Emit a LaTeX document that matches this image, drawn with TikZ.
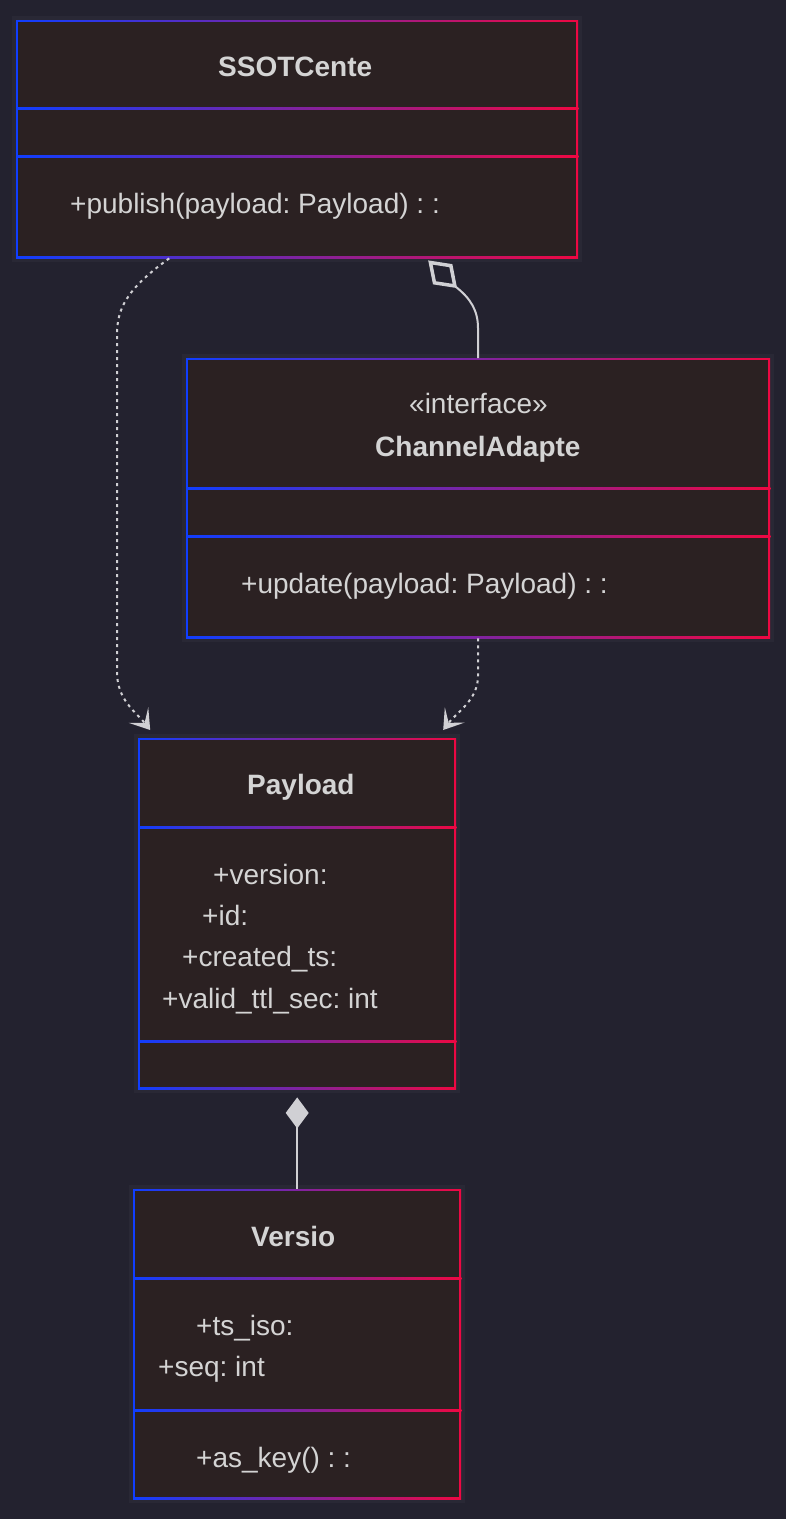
\documentclass[tikz,border=0pt]{standalone}
\usepackage{fontspec}
\setmainfont{Liberation Sans}
\usetikzlibrary{arrows.meta}
\frenchspacing

\definecolor{bgCol}{RGB}{35,34,47}
\definecolor{boxBg}{RGB}{43,33,34}
\definecolor{gBlue}{RGB}{16,62,255}
\definecolor{gRed}{RGB}{238,8,66}
\definecolor{txtCol}{RGB}{212,212,212}
\definecolor{lineCol}{RGB}{208,208,212}
\definecolor{haloCol}{RGB}{190,190,215}

\begin{document}
\begin{tikzpicture}[x=1pt,y=-1pt]

    \tikzstyle{classbox}=[rectangle, inner sep=0pt, anchor=north west, left color=gBlue, right color=gRed,
        preaction={draw=haloCol, line width=8pt, opacity=.04}]
    \tikzstyle{boxfill}=[fill=boxBg]
    \tikzstyle{bar}=[left color=gBlue, right color=gRed]
    \tikzstyle{txt}=[text=txtCol, inner sep=0pt, anchor=base west, font=\fontsize{28}{34}\selectfont]
    \tikzstyle{ttl}=[txt, font=\fontsize{28}{34}\selectfont\bfseries]
    \tikzstyle{dep}=[draw=lineCol, line width=2pt, dash pattern=on 3pt off 4pt, -{Stealth[length=19pt, width=25pt, inset=10pt]}]
    \tikzstyle{aggr}=[draw=lineCol, line width=2pt, {Diamond[open, length=40pt, width=28pt, line width=3.5pt]}-]
    \tikzstyle{compo}=[draw=lineCol, line width=2pt, {Diamond[length=31pt, width=23pt]}-]

    % Background
    \fill[bgCol] (0,0) rectangle (786,1519);
    \useasboundingbox (0,0) rectangle (786,1519);

    % SSOTCenter class
    \node[classbox, minimum width=562, minimum height=238] (ssot) at (16,20) {};
    \fill[boxfill] ([shift={(2,2)}]ssot.north west) rectangle ([shift={(-2,-2)}]ssot.south east);
    \shade[bar] ([shift={(0,87)}]ssot.north west) rectangle ([shift={(0,89)}]ssot.north east);
    \shade[bar] ([shift={(0,135)}]ssot.north west) rectangle ([shift={(0,137)}]ssot.north east);
    \node[ttl] (ssotTitle) at (218,76) {SSOTCente};
    \node[txt] (ssotOp) at (70,213) {+publish(payload: Payload) : :};

    % ChannelAdapter interface
    \node[classbox, minimum width=584, minimum height=280] (chan) at (186,358) {};
    \fill[boxfill] ([shift={(2,2)}]chan.north west) rectangle ([shift={(-2,-2)}]chan.south east);
    \shade[bar] ([shift={(0,129)}]chan.north west) rectangle ([shift={(0,131)}]chan.north east);
    \shade[bar] ([shift={(0,177)}]chan.north west) rectangle ([shift={(0,179)}]chan.north east);
    \node[txt] (chanStereo) at (409,413) {«interface»};
    \node[ttl] (chanTitle) at (375,456) {ChannelAdapte};
    \node[txt] (chanOp) at (241,593) {+update(payload: Payload) : :};

    % Payload class
    \node[classbox, minimum width=318, minimum height=351] (payload) at (138,738) {};
    \fill[boxfill] ([shift={(2,2)}]payload.north west) rectangle ([shift={(-2,-2)}]payload.south east);
    \shade[bar] ([shift={(0,88)}]payload.north west) rectangle ([shift={(0,90)}]payload.north east);
    \shade[bar] ([shift={(0,302)}]payload.north west) rectangle ([shift={(0,304)}]payload.north east);
    \node[ttl] (payTitle) at (247,794) {Payload};
    \node[txt] (payVer) at (213,884) {+version:};
    \node[txt] (payId) at (202,925) {+id:};
    \node[txt] (payTs) at (182,966) {+created\_ts:};
    \node[txt] (payTtl) at (162,1008) {+valid\_ttl\_sec: int};

    % Version class
    \node[classbox, minimum width=328, minimum height=310] (version) at (133,1189) {};
    \fill[boxfill] ([shift={(2,2)}]version.north west) rectangle ([shift={(-2,-2)}]version.south east);
    \shade[bar] ([shift={(0,88)}]version.north west) rectangle ([shift={(0,90)}]version.north east);
    \shade[bar] ([shift={(0,220)}]version.north west) rectangle ([shift={(0,222)}]version.north east);
    \node[ttl] (verTitle) at (251,1246) {Versio};
    \node[txt] (verTs) at (196,1335) {+ts\_iso:};
    \node[txt] (verSeq) at (158,1376) {+seq: int};
    \node[txt] (verKey) at (196,1467) {+as\_key() : :};

    % Dependencies on Payload
    \draw[dep] ([shift={(-128,0)}]ssot.south) .. controls (125,290) and (117,310) .. (117,335)
        -- (117,672) .. controls (117,700) and (136,712) .. ([shift={(-147,-8)}]payload.north);
    \draw[dep] (chan.south) -- (478,676) .. controls (478,700) and (457,712) .. ([shift={(146,-8)}]payload.north);

    % Aggregation SSOTCenter o-- ChannelAdapter
    \draw[aggr] ([shift={(131,2)}]ssot.south) -- (456,287) .. controls (470,298) and (478,310) .. (478,328) -- (chan.north);

    % Composition Payload *-- Version
    \draw[compo] ([shift={(0,8)}]payload.south) -- (version.north);

\end{tikzpicture}
\end{document}
